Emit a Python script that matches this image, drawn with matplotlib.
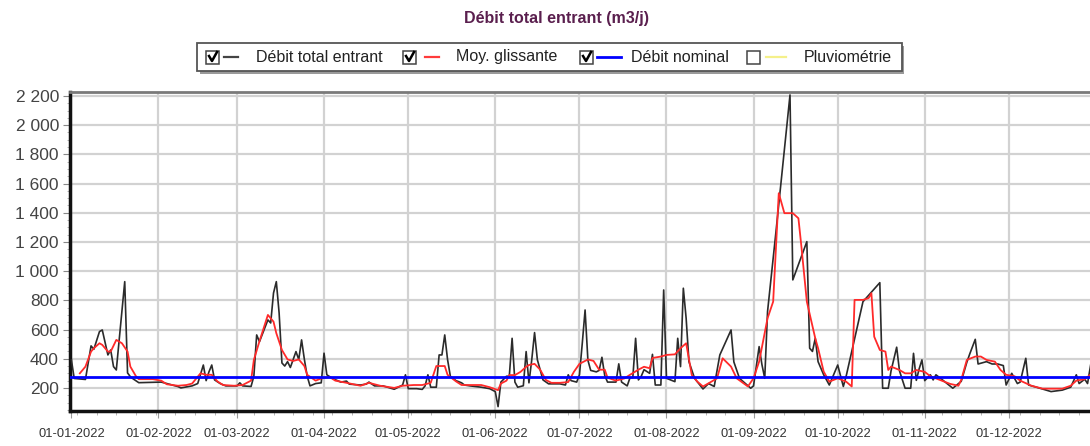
import pandas as pd
import matplotlib.pyplot as plt
import matplotlib.dates as mdates
from matplotlib.patches import Rectangle
from matplotlib.lines import Line2D
from matplotlib.ticker import FuncFormatter, MultipleLocator

plt.rcParams["font.family"] = ["Liberation Sans", "DejaVu Sans"]

# jours depuis le 01-01-2022 / débit total entrant (m3/j)
jours_debit = [0, 1, 5, 7, 8, 10, 11, 13, 14, 15, 16, 19, 20, 21, 22, 24, 32, 34, 38, 39,
               43, 45, 47, 48, 49, 50, 51, 53, 55, 59, 60, 61, 64, 65, 66, 67, 70, 71, 72, 73,
               74, 75, 76, 77, 78, 79, 80, 81, 82, 83, 84, 85, 87, 89, 90, 91, 93, 96, 98, 99,
               103, 105, 106, 108, 111, 115, 118, 119, 120, 123, 125, 126, 127, 128, 130, 131, 132, 133, 134, 135,
               137, 139, 140, 142, 146, 149, 151, 152, 153, 155, 156, 157, 158, 159, 161, 162, 163, 164, 165, 166,
               168, 170, 174, 176, 177, 178, 180, 181, 182, 183, 184, 185, 187, 188, 189, 190, 191, 194, 195, 196,
               198, 199, 200, 201, 202, 203, 204, 206, 207, 208, 210, 211, 212, 215, 216, 217, 218, 219, 220, 222,
               225, 227, 229, 231, 235, 236, 238, 242, 243, 245, 246, 247, 248, 251, 256, 257, 262, 263, 264, 265,
               266, 268, 270, 273, 275, 276, 282, 288, 289, 291, 292, 294, 295, 297, 299, 300, 301, 302, 303, 304,
               306, 307, 308, 310, 314, 317, 319, 320, 322, 323, 326, 328, 330, 332, 333, 335, 337, 338, 340, 341,
               345, 349, 353, 356, 358, 359, 361, 362, 364]
debit = [392, 265, 258, 488, 465, 586, 597, 426, 460, 346, 323, 928, 303, 277, 262, 236, 240, 230, 209, 200,
         214, 230, 357, 250, 310, 357, 255, 230, 214, 214, 235, 214, 210, 280, 563, 517, 666, 645, 850, 928,
         713, 371, 350, 380, 340, 395, 449, 395, 529, 395, 280, 214, 230, 235, 438, 290, 265, 240, 247, 226,
         220, 226, 240, 214, 214, 191, 220, 290, 195, 195, 190, 214, 290, 205, 205, 426, 426, 563, 395, 280,
         250, 235, 220, 214, 205, 195, 175, 72, 240, 280, 280, 540, 240, 205, 215, 449, 235, 393, 579, 393,
         255, 228, 228, 220, 290, 250, 240, 290, 506, 734, 390, 320, 310, 320, 410, 285, 240, 240, 365, 240,
         214, 270, 270, 540, 255, 280, 325, 300, 430, 220, 220, 871, 266, 243, 540, 346, 883, 677, 380, 266,
         193, 230, 210, 426, 597, 378, 266, 198, 214, 483, 360, 266, 723, 1270, 2207, 940, 1202, 472, 450, 540,
         380, 290, 220, 357, 210, 280, 791, 921, 198, 198, 317, 479, 317, 198, 198, 437, 252, 330, 392, 250,
         290, 255, 290, 260, 198, 245, 376, 431, 533, 364, 380, 364, 364, 353, 220, 300, 230, 240, 403, 220,
         198, 175, 185, 205, 290, 230, 260, 230, 460]

# moyenne glissante
jours_moy = [3, 5, 7, 8, 10, 11, 13, 14, 16, 18, 20, 21, 23, 24, 29, 32, 34, 38, 41, 43,
             46, 48, 50, 52, 54, 58, 61, 64, 65, 67, 70, 72, 73, 75, 77, 79, 81, 83, 84, 87,
             89, 92, 94, 98, 103, 106, 110, 115, 118, 122, 125, 128, 130, 133, 134, 137, 139, 142, 146, 149,
             152, 153, 155, 156, 158, 160, 162, 163, 165, 167, 169, 171, 174, 177, 179, 181, 184, 186, 188, 190,
             191, 194, 197, 199, 202, 204, 206, 207, 210, 212, 215, 217, 219, 221, 223, 225, 228, 230, 232, 235,
             237, 241, 243, 245, 248, 250, 252, 254, 257, 259, 260, 262, 265, 266, 268, 270, 273, 276, 278, 279,
             282, 284, 285, 286, 288, 290, 291, 292, 295, 297, 299, 301, 304, 306, 310, 313, 316, 317, 319, 322,
             324, 326, 329, 331, 333, 336, 338, 342, 346, 349, 353, 356, 358, 361, 363]
moy = [300, 346, 449, 472, 506, 495, 449, 449, 529, 506, 449, 346, 280, 260, 260, 250, 225, 215, 220, 230,
       300, 290, 290, 245, 220, 215, 220, 250, 392, 520, 700, 654, 575, 460, 395, 385, 395, 350, 290, 250,
       265, 275, 250, 235, 215, 235, 215, 200, 215, 220, 220, 235, 350, 350, 290, 245, 220, 220, 220, 205,
       185, 230, 250, 288, 288, 310, 345, 357, 365, 325, 255, 235, 235, 240, 310, 365, 395, 385, 325, 325,
       270, 250, 265, 290, 325, 345, 335, 405, 415, 426, 430, 472, 506, 289, 243, 210, 243, 266, 403, 346,
       266, 210, 266, 380, 677, 791, 1534, 1397, 1397, 1362, 1180, 791, 540, 472, 312, 243, 266, 243, 210, 803,
       803, 815, 849, 551, 460, 449, 323, 346, 323, 300, 300, 323, 310, 280, 250, 228, 215, 255, 392, 415,
       415, 392, 380, 323, 290, 280, 250, 215, 195, 195, 195, 215, 250, 260, 290]

debit_nominal = 275

legende = ["Débit total entrant", "Moy. glissante", "Débit nominal", "Pluviométrie"]
legende_couleurs = ["#444444", "#ff3b3b", "#0000ff", "#f5f08a"]
legende_cochee = [True, True, True, False]

debut = pd.Timestamp("2022-01-01")
dates_debit = debut + pd.to_timedelta(jours_debit, unit="D")
dates_moy = debut + pd.to_timedelta(jours_moy, unit="D")

W, H = 1090, 446
fig = plt.figure(figsize=(W / 100, H / 100), dpi=100)
ax = fig.add_axes([70 / W, 35 / H, 1024 / W, 319 / H])

ax.plot(dates_debit, debit, color="#2b2b2b", lw=1.2, zorder=3)
ax.plot(dates_moy, moy, color="#ff2a2a", lw=1.3, zorder=4)
ax.axhline(debit_nominal, color="#0000ff", lw=2, zorder=5)

ax.set_xlim(debut - pd.Timedelta(hours=12), debut + pd.Timedelta(days=364.3))
ax.set_ylim(42, 2227)

ax.yaxis.set_major_locator(MultipleLocator(200))
ax.yaxis.set_minor_locator(MultipleLocator(50))
ax.yaxis.set_major_formatter(FuncFormatter(lambda v, p: f"{int(v):,}".replace(",", " ")))
ax.xaxis.set_major_locator(mdates.MonthLocator())
ax.xaxis.set_major_formatter(mdates.DateFormatter("%d-%m-%Y"))
ax.xaxis.set_minor_locator(mdates.WeekdayLocator(byweekday=mdates.MO))

ax.tick_params(axis="y", which="major", labelsize=12.5, labelcolor="#444444", length=5, color="#888888", pad=3)
ax.tick_params(axis="y", which="minor", length=2, color="#aaaaaa")
ax.tick_params(axis="x", which="major", labelsize=9.3, labelcolor="#333333", length=5, color="#999999", pad=7)
ax.tick_params(axis="x", which="minor", length=3, color="#aaaaaa")

ax.grid(True, which="major", color="#d2d2d2", lw=1.6)
ax.set_axisbelow(True)
for s in ("left", "bottom"):
    ax.spines[s].set_linewidth(2.5)
    ax.spines[s].set_color("#111111")
ax.spines["top"].set_linewidth(2)
ax.spines["top"].set_color("#7a7a7a")
ax.spines["right"].set_visible(False)


def fx(x):
    return x / W


def fy(y):
    return 1 - y / H


fig.text(fx(557), fy(19), "Débit total entrant (m3/j)", ha="center", va="center",
         fontsize=11.5, fontweight="bold", color="#5a1f4e")

# boîte de légende avec ombre
fig.add_artist(Rectangle((fx(200), fy(74)), fx(904) - fx(200), fy(46) - fy(74),
                         transform=fig.transFigure, facecolor="#9a9a9a", edgecolor="none"))
fig.add_artist(Rectangle((fx(197), fy(71)), fx(902) - fx(197), fy(43) - fy(71),
                         transform=fig.transFigure, facecolor="white", edgecolor="#555555", lw=1.3))

cases_x = [206, 403, 580, 747]
traits_x = [(224, 238), (425, 439), (597, 621), (766, 786)]
textes_x = [256, 456, 631, 804]
yc = 57
for lab, col, ok, cx, (l0, l1), tx in zip(legende, legende_couleurs, legende_cochee,
                                           cases_x, traits_x, textes_x):
    fig.add_artist(Rectangle((fx(cx), fy(yc + 7)), fx(cx + 13) - fx(cx), fy(yc - 6) - fy(yc + 7),
                             transform=fig.transFigure, facecolor="white", edgecolor="#444444", lw=1.1))
    if ok:
        fig.add_artist(Line2D([fx(cx + 3), fx(cx + 6), fx(cx + 11)], [fy(yc - 1), fy(yc + 4), fy(yc - 5)],
                              transform=fig.transFigure, color="black", lw=1.8))
    fig.add_artist(Line2D([fx(l0), fx(l1)], [fy(yc), fy(yc)], transform=fig.transFigure,
                          color=col, lw=2 if col == "#0000ff" else 1.6))
    fig.text(fx(tx), fy(yc), lab, ha="left", va="center", fontsize=11.5, color="#222222")

fig.savefig("out.png", dpi=100)
